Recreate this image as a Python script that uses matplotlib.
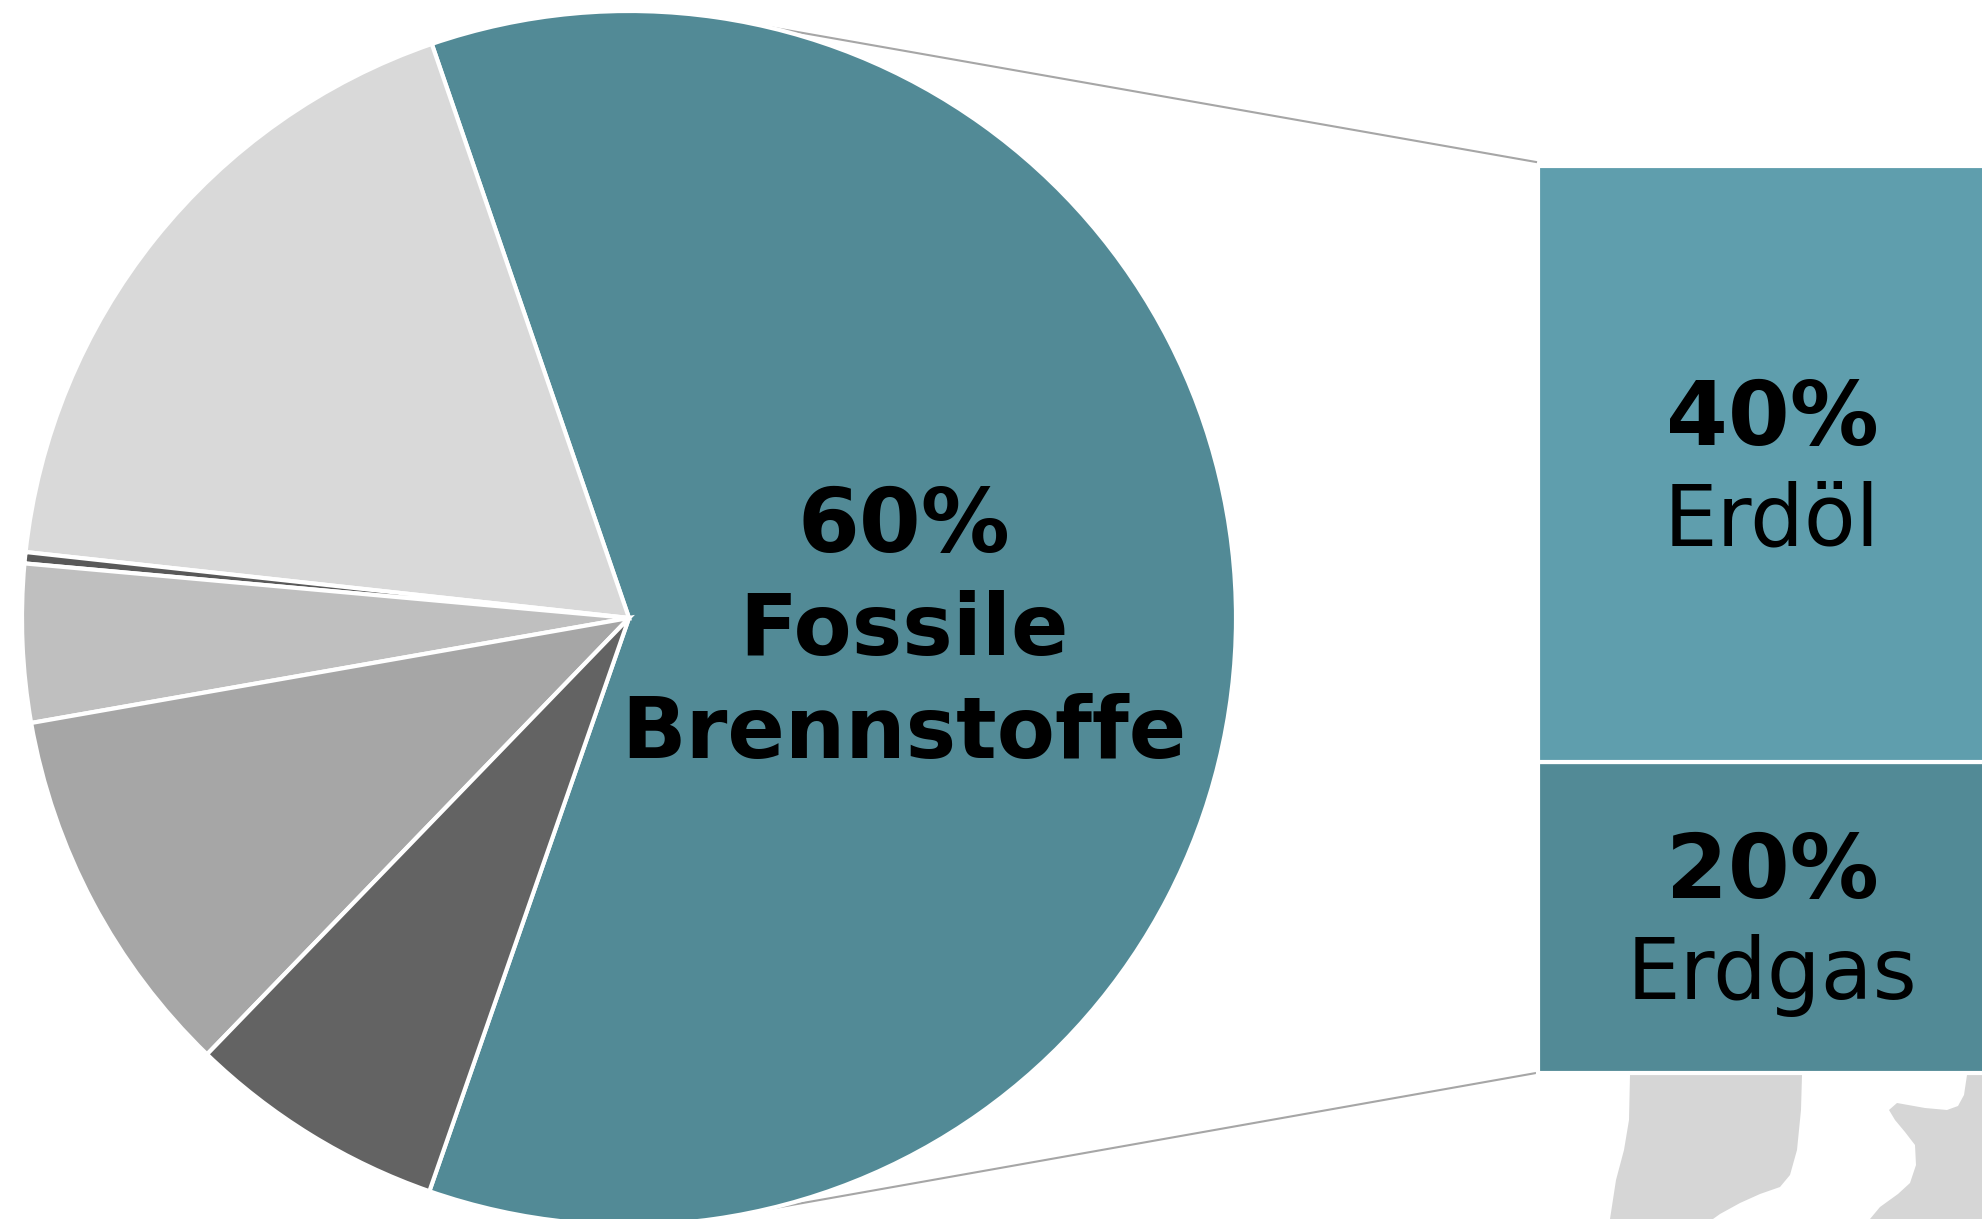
import numpy as np
import matplotlib.pyplot as plt
from matplotlib.patches import Polygon

# Pie data (share in %), fossil slice first, then counter-clockwise
pie_labels = ["Fossile Brennstoffe", "Anteil A", "Anteil B", "Anteil C", "Anteil D", "Anteil E"]
pie_values = [60.6, 18.0, 0.3, 4.2, 10.0, 6.9]
pie_colors = ["#528a96", "#d9d9d9", "#595959", "#bfbfbf", "#a6a6a6", "#636363"]

# Breakdown of the fossil slice (bottom to top in the bar)
bar_labels = ["Erdgas", "Erdöl"]
bar_values = [20.8, 39.8]
bar_texts = ["20%", "40%"]
bar_colors = ["#528a96", "#5f9ead"]

W, H = 1982, 1219
fig = plt.figure(figsize=(W / 100, H / 100), dpi=100)
ax = fig.add_axes([0, 0, 1, 1])

# pie, in pixel units of the figure
cx, cy, r = 629, H - 618, 607
ax.pie(pie_values, colors=pie_colors, startangle=-109.2, counterclock=True,
       center=(cx, cy), radius=r, frame=True,
       wedgeprops=dict(edgecolor="white", linewidth=3))

# label of the fossil slice
tx = cx + 275
ax.text(tx, cy + 66, "60%", ha="center", va="baseline", fontsize=64,
        fontweight="bold", color="black")
ax.text(tx, cy - 37, "Fossile", ha="center", va="baseline", fontsize=61,
        fontweight="bold", color="black")
ax.text(tx, cy - 140, "Brennstoffe", ha="center", va="baseline", fontsize=61,
        fontweight="bold", color="black")

# stacked bar for the fossil breakdown
bar_left, bar_w = 1538, 470
bar_bottom, bar_top = H - 1073, H - 166
scale = (bar_top - bar_bottom) / sum(bar_values)
bottom = bar_bottom
for val, txt, lab, col in zip(bar_values, bar_texts, bar_labels, bar_colors):
    h = val * scale
    ax.bar(bar_left, h, bottom=bottom, width=bar_w, align="edge", color=col,
           edgecolor="white", linewidth=3)
    ymid = bottom + h / 2
    ax.text(bar_left + 234, ymid + 19, txt, ha="center", va="baseline",
            fontsize=64, fontweight="bold", color="black")
    ax.text(bar_left + 234, ymid - 82, lab, ha="center", va="baseline",
            fontsize=61, color="black")
    bottom += h

# connector lines from the pie to the bar corners
ang = np.deg2rad(77.3)
ax.plot([cx + r * np.cos(ang), bar_left - 2], [cy + r * np.sin(ang), bar_top + 4],
        color="#a6a6a6", linewidth=1.5, zorder=0)
ax.plot([cx + r * np.cos(-ang), bar_left - 2], [cy - r * np.sin(ang), bar_bottom],
        color="#a6a6a6", linewidth=1.5, zorder=0)

# grey silhouette decoration below the bar (cropped)
shape1 = [(1630, 1075), (1802, 1075), (1801, 1110), (1797, 1150), (1790, 1175),
          (1780, 1187), (1760, 1194), (1740, 1203), (1720, 1214), (1713, 1219),
          (1610, 1219), (1616, 1180), (1624, 1150), (1629, 1120)]
shape2 = [(1967, 1075), (1982, 1075), (1982, 1219), (1870, 1219), (1880, 1207),
          (1898, 1194), (1910, 1183), (1916, 1165), (1915, 1145), (1905, 1132),
          (1895, 1120), (1889, 1110), (1897, 1103), (1925, 1108), (1947, 1110),
          (1958, 1106), (1964, 1095)]
for shp in (shape1, shape2):
    pts = [(x, H - y) for x, y in shp]
    ax.add_patch(Polygon(pts, closed=True, facecolor="#d6d6d6", edgecolor="none",
                         joinstyle="round", zorder=0))

ax.set_xlim(0, W)
ax.set_ylim(0, H)
ax.set_aspect("auto")
ax.axis("off")

fig.savefig("out.png", dpi=100)
